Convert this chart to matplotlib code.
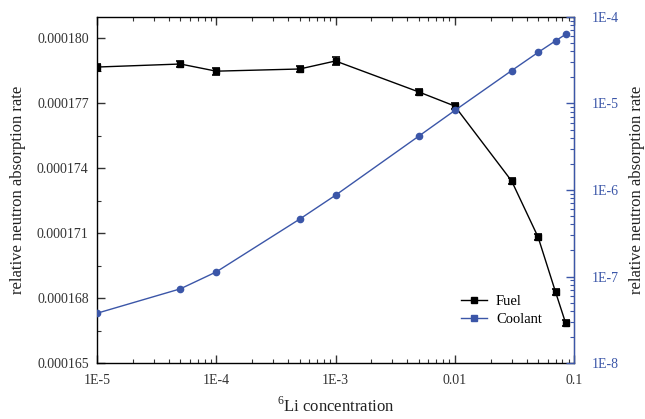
import numpy as np
import matplotlib.pyplot as plt
from matplotlib.ticker import FixedLocator, FuncFormatter, LogLocator, NullFormatter, MultipleLocator

plt.rcParams['font.family'] = ['Liberation Serif', 'DejaVu Serif']
plt.rcParams['mathtext.fontset'] = 'custom'
plt.rcParams['mathtext.rm'] = 'Liberation Serif'

# data
li_conc = [1e-5, 5e-5, 1e-4, 5e-4, 1e-3, 5e-3, 1e-2, 3e-2, 5e-2, 7e-2, 8.5e-2]
fuel = [0.00017866, 0.00017880, 0.00017847, 0.00017857, 0.00017894, 0.00017751,
        0.00017686, 0.00017340, 0.00017081, 0.00016828, 0.00016685]
fuel_err = [1.6e-7, 1.6e-7, 1.6e-7, 1.4e-7, 1.8e-7, 1.4e-7, 1.4e-7, 1.6e-7, 1.4e-7, 1.4e-7, 1.3e-7]
coolant = [3.76e-8, 7.2e-8, 1.13e-7, 4.6e-7, 8.7e-7, 4.2e-6, 8.3e-6, 2.4e-5, 3.9e-5, 5.3e-5, 6.3e-5]
x_ticks = [1e-5, 1e-4, 1e-3, 1e-2, 1e-1]
x_labels = ['1E-5', '1E-4', '1E-3', '0.01', '0.1']
blue = '#3b56a8'

fig = plt.figure(figsize=(6.45, 4.19), dpi=100)
ax = fig.add_axes([97/645, 1 - 363/419, (574-97)/645, (363-17)/419])
ax2 = ax.twinx()

ax.errorbar(li_conc, fuel, yerr=fuel_err, color='black', marker='s', ms=4,
            lw=1, capsize=3, elinewidth=1.2, capthick=1.2, zorder=3)
ax2.plot(li_conc, coolant, color=blue, marker='o', ms=4.5, lw=1)

ax.set_xscale('log')
ax.set_xlim(1e-5, 1e-1)
ax.set_xticks(x_ticks)
ax.set_xticklabels(x_labels)
ax.xaxis.set_minor_locator(LogLocator(base=10, subs=np.arange(2, 10)))
ax.xaxis.set_minor_formatter(NullFormatter())

ax.set_ylim(0.000165, 0.00018097)
ax.yaxis.set_major_locator(FixedLocator([0.000165, 0.000168, 0.000171, 0.000174, 0.000177, 0.000180]))
ax.yaxis.set_minor_locator(MultipleLocator(1.5e-6))
ax.yaxis.set_major_formatter(FuncFormatter(lambda v, p: '%.6f' % v))

ax2.set_yscale('log')
ax2.set_ylim(1e-8, 1e-4)
ax2.yaxis.set_major_locator(FixedLocator([1e-8, 1e-7, 1e-6, 1e-5, 1e-4]))
ax2.yaxis.set_major_formatter(FuncFormatter(lambda v, p: '1E%d' % round(np.log10(v))))
ax2.yaxis.set_minor_locator(LogLocator(base=10, subs=np.arange(2, 10)))
ax2.yaxis.set_minor_formatter(NullFormatter())

ax.tick_params(which='both', direction='in', top=True, right=False, labelsize=10, colors='#333333')
ax.tick_params(which='major', length=6, width=1)
ax.tick_params(which='minor', length=3, width=0.8)
ax.tick_params(axis='x', pad=8)
ax.tick_params(axis='y', pad=6)
ax2.tick_params(which='both', direction='in', colors=blue, labelsize=10, pad=13)
ax2.tick_params(which='major', length=6, width=1)
ax2.tick_params(which='minor', length=3, width=0.8)
for s in ['left', 'bottom', 'top']:
    ax.spines[s].set_linewidth(1)
ax2.spines['right'].set_color(blue)
ax2.spines['right'].set_linewidth(1)
ax2.spines['left'].set_visible(False)
ax2.spines['top'].set_visible(False)
ax2.spines['bottom'].set_visible(False)

ax.set_xlabel(r'$^{\mathregular{6}}$Li concentration', fontsize=12, labelpad=7, color='#222222')
ax.set_ylabel('relative neutron absorption rate', fontsize=12, color='#222222', labelpad=8)
ax2.set_ylabel('relative neutron absorption rate', fontsize=12, color='#222222', labelpad=7)

fuel_h, = ax.plot([], [], color='black', marker='s', ms=4, lw=1)
cool_h, = ax.plot([], [], color=blue, marker='s', ms=4, lw=1)
ax.legend([fuel_h, cool_h], ['Fuel', 'Coolant'], loc='lower right', bbox_to_anchor=(0.96, 0.07),
          frameon=False, fontsize=10.5, handlelength=1.8, handletextpad=0.6, labelspacing=0.3)

fig.savefig('out.png', dpi=100)
